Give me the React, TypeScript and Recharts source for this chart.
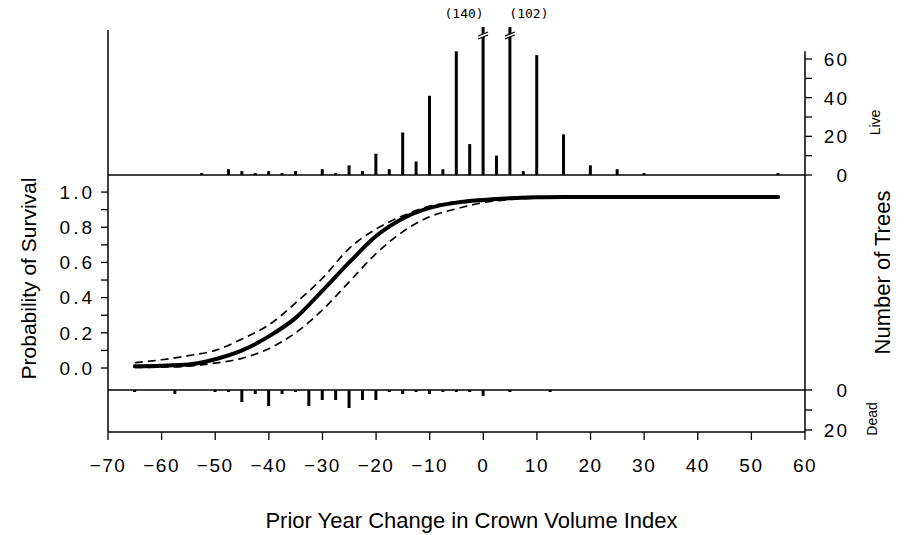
import {
  ComposedChart,
  BarChart,
  Bar,
  Line,
  XAxis,
  YAxis,
  ReferenceLine,
  Label,
} from "recharts";

// live trees per crown-volume-change bin (top histogram)
const liveBins = [
  -52.5, -47.5, -45, -42.5, -40, -37.5, -35, -30, -27.5, -25, -22.5, -20, -17.5, -15, -12.5,
  -10, -7.5, -5, -2.5, 0, 2.5, 5, 7.5, 10, 15, 20, 25, 30, 55,
];
const liveCounts = [
  1, 3, 2, 1, 2, 1, 2, 3, 1, 5, 2, 11, 3, 22, 7, 41, 3, 64, 16, 140, 10, 102, 2, 62, 21, 5, 3, 1, 1,
];

// dead trees per bin (bottom histogram, drawn downward)
const deadBins = [
  -65, -57.5, -50, -47.5, -45, -42.5, -40, -37.5, -35, -32.5, -30, -27.5, -25, -22.5, -20,
  -17.5, -15, -12.5, -10, -7.5, -5, -2.5, 0, 5, 12.5,
];
const deadCounts = [1, 2, 1, 1, 6, 2, 8, 2, 1, 8, 5, 5, 9, 5, 5, 1, 2, 1, 2, 1, 1, 1, 3, 1, 1];

// fitted survival curve and its confidence band
const curveX = [
  -65, -60, -55, -50, -45, -40, -35, -30, -25, -20, -15, -10, -5, 0, 5, 10, 15, 20, 25, 30, 35,
  40, 45, 50, 55,
];
const survival = [
  0.01, 0.013, 0.02, 0.05, 0.1, 0.18, 0.285, 0.44, 0.6, 0.75, 0.85, 0.91, 0.94, 0.955, 0.965,
  0.97, 0.972, 0.972, 0.972, 0.972, 0.972, 0.972, 0.972, 0.972, 0.972,
];
const upperBand = [
  0.03, 0.047, 0.07, 0.1, 0.165, 0.245, 0.37, 0.51, 0.68, 0.79, 0.865, 0.92, 0.945, 0.96, 0.968,
  0.972, 0.973, 0.973, 0.973, 0.973, 0.973, 0.973, 0.973, 0.973, 0.973,
];
const lowerBand = [
  0.003, 0.005, 0.01, 0.028, 0.055, 0.11, 0.2, 0.33, 0.49, 0.65, 0.775, 0.86, 0.905, 0.94, 0.958,
  0.966, 0.97, 0.971, 0.971, 0.971, 0.971, 0.971, 0.971, 0.971, 0.971,
];

const xTicks = [-70, -60, -50, -40, -30, -20, -10, 0, 10, 20, 30, 40, 50, 60];
const probTicks = [0, 0.1, 0.2, 0.3, 0.4, 0.5, 0.6, 0.7, 0.8, 0.9, 1.0];
const liveTicks = [0, 10, 20, 30, 40, 50, 60];
const liveTickLabels = [0, 20, 40, 60];
const deadTicks = [0, 10, 20];
const deadTickLabels = [0, 20];

const LIVE_CAP = 75;

const W = 911;
const FONT = "'Liberation Sans', Arial, sans-serif";
const INK = "#000";
const margin = { left: 48, right: 46 };

const liveData = (() => {
  let nBroken = 0;
  return liveBins.map((x, i) => {
    const full = liveCounts[i];
    const broken = full > LIVE_CAP;
    const side = broken ? (nBroken++ % 2 === 0 ? -1 : 1) : 0;
    return { x, live: Math.min(full, LIVE_CAP), full, broken, side };
  });
})();
const deadData = deadBins.map((x, i) => ({ x, dead: deadCounts[i] }));
const curveData = curveX.map((x, i) => ({
  x,
  p: survival[i],
  hi: upperBand[i],
  lo: lowerBand[i],
}));

const LiveBar = (props: any) => {
  const { x, y, width, height, payload } = props;
  if (!height || height <= 0) return null;
  if (!payload.broken) return <rect x={x} y={y} width={width} height={height} fill={INK} />;
  const cx = x + width / 2;
  const top = y - 3;
  return (
    <g>
      <rect x={x} y={top} width={width} height={height + 3} fill={INK} />
      <polygon
        points={`${cx - 5},${y + 6} ${cx + 5},${y + 2} ${cx + 5},${y + 5} ${cx - 5},${y + 9}`}
        fill="#fff"
      />
      <line x1={cx - 5} y1={y + 6} x2={cx + 5} y2={y + 2} stroke={INK} strokeWidth={1.3} />
      <line x1={cx - 5} y1={y + 9} x2={cx + 5} y2={y + 5} stroke={INK} strokeWidth={1.3} />
      <text
        x={cx + payload.side * 19}
        y={top - 9}
        textAnchor="middle"
        fontSize={13}
        fontFamily="'DejaVu Sans Mono', monospace"
        fill={INK}
      >
        ({payload.full})
      </text>
    </g>
  );
};

const RightTick = ({ x, y, payload, labels }: any) => {
  if (!labels.includes(payload.value)) return null;
  return (
    <text
      x={x + 37}
      y={y}
      dy={7}
      textAnchor="end"
      fontSize={19}
      fontFamily={FONT}
      letterSpacing={2}
      fill={INK}
    >
      {payload.value}
    </text>
  );
};

const SideTitle = ({ viewBox, text, dx, dy, size, family }: any) => {
  const cx = viewBox.x + dx;
  const cy = viewBox.y + viewBox.height / 2 + dy;
  return (
    <text
      x={cx}
      y={cy}
      transform={`rotate(-90 ${cx} ${cy})`}
      textAnchor="middle"
      dominantBaseline="central"
      fontSize={size}
      fontFamily={family || FONT}
      fill={INK}
    >
      {text}
    </text>
  );
};

const BottomTitle = ({ viewBox, text }: any) => (
  <text
    x={viewBox.x + viewBox.width / 2 + 15}
    y={viewBox.y + viewBox.height - 6}
    textAnchor="middle"
    fontSize={22}
    fontFamily={FONT}
    fill={INK}
  >
    {text}
  </text>
);

const fmtX = (v: number) => (v < 0 ? `\u2212${Math.abs(v)}` : `${v}`);
const fmtP = (v: number) => (Math.round(v * 10) % 2 === 0 ? v.toFixed(1) : "");

const axisLineStyle = { stroke: INK, strokeWidth: 1.5 };
const tickLineStyle = { stroke: INK, strokeWidth: 1.3 };

export default function App() {
  return (
    <div
      style={{
        position: "absolute",
        left: 0,
        top: 0,
        width: W,
        height: 535,
        background: "#fff",
        overflow: "hidden",
      }}
    >
      {/* live trees */}
      <div style={{ position: "absolute", left: 0, top: 0 }}>
        <BarChart
          width={W}
          height={190}
          data={liveData}
          margin={{ top: 30, bottom: 14, ...margin }}
        >
          <XAxis
            dataKey="x"
            type="number"
            domain={[-70, 60]}
            ticks={xTicks}
            height={1}
            tick={false}
            tickLine={false}
            axisLine={axisLineStyle}
          />
          <YAxis
            yAxisId="left"
            orientation="left"
            width={60}
            domain={[0, LIVE_CAP]}
            tick={false}
            tickLine={false}
            axisLine={axisLineStyle}
          />
          <YAxis
            yAxisId="right"
            orientation="right"
            width={60}
            domain={[0, LIVE_CAP]}
            ticks={liveTicks}
            interval={0}
            tickSize={7}
            tickMargin={0}
            tickLine={tickLineStyle}
            axisLine={false}
            tick={<RightTick labels={liveTickLabels} />}
          >
            <Label
              content={(p: any) => (
                <SideTitle {...p} text="Live" dx={70} dy={20} size={14} />
              )}
            />
          </YAxis>
          <ReferenceLine
            yAxisId="right"
            segment={[
              { x: 60, y: 0 },
              { x: 60, y: 64 },
            ]}
            stroke={INK}
            strokeWidth={1.5}
            ifOverflow="visible"
          />
          <Bar
            yAxisId="right"
            dataKey="live"
            barSize={3}
            shape={<LiveBar />}
            isAnimationActive={false}
          />
        </BarChart>
      </div>

      {/* survival curve */}
      <div style={{ position: "absolute", left: 0, top: 150 }}>
        <ComposedChart width={W} height={265} data={curveData} margin={{ top: 25, bottom: 25, ...margin }}>
          <XAxis dataKey="x" type="number" domain={[-70, 60]} ticks={xTicks} hide />
          <YAxis
            yAxisId="left"
            orientation="left"
            width={60}
            domain={[-0.125, 1.097]}
            ticks={probTicks}
            interval={0}
            tickFormatter={fmtP}
            tickSize={7}
            tickMargin={6}
            tickLine={tickLineStyle}
            axisLine={axisLineStyle}
            tick={{ fontSize: 19, fontFamily: FONT, fill: INK, letterSpacing: 3 }}
          >
            <Label
              content={(p: any) => (
                <SideTitle {...p} text="Probability of Survival" dx={-20} dy={-4} size={21} />
              )}
            />
          </YAxis>
          <YAxis
            yAxisId="right"
            orientation="right"
            width={60}
            domain={[-0.125, 1.097]}
            tick={false}
            tickLine={false}
            axisLine={axisLineStyle}
          >
            <Label
              content={(p: any) => (
                <SideTitle {...p} text="Number of Trees" dx={77} dy={-10} size={22} />
              )}
            />
          </YAxis>
          <Line
            yAxisId="left"
            dataKey="hi"
            type="monotone"
            stroke={INK}
            strokeWidth={1.7}
            strokeDasharray="8 5"
            dot={false}
            isAnimationActive={false}
          />
          <Line
            yAxisId="left"
            dataKey="lo"
            type="monotone"
            stroke={INK}
            strokeWidth={1.7}
            strokeDasharray="8 5"
            dot={false}
            isAnimationActive={false}
          />
          <Line
            yAxisId="left"
            dataKey="p"
            type="monotone"
            stroke={INK}
            strokeWidth={4}
            strokeLinecap="round"
            dot={false}
            isAnimationActive={false}
          />
        </ComposedChart>
      </div>

      {/* dead trees + shared x axis */}
      <div style={{ position: "absolute", left: 0, top: 370 }}>
        <BarChart width={W} height={164} data={deadData} margin={{ top: 19, bottom: 0, ...margin }}>
          <XAxis
            xAxisId="top"
            dataKey="x"
            type="number"
            orientation="top"
            domain={[-70, 60]}
            ticks={xTicks}
            height={1}
            tick={false}
            tickLine={false}
            axisLine={axisLineStyle}
          />
          <XAxis
            xAxisId="bottom"
            dataKey="x"
            type="number"
            orientation="bottom"
            domain={[-70, 60]}
            ticks={xTicks}
            interval={0}
            height={102}
            tickSize={8}
            tickMargin={19}
            tickFormatter={fmtX}
            tickLine={tickLineStyle}
            axisLine={axisLineStyle}
            tick={{ fontSize: 19, fontFamily: FONT, fill: INK, letterSpacing: 1.5 }}
          >
            <Label
              content={(p: any) => (
                <BottomTitle {...p} text="Prior Year Change in Crown Volume Index" />
              )}
            />
          </XAxis>
          <YAxis
            yAxisId="left"
            orientation="left"
            width={60}
            domain={[0, 21]}
            reversed
            tick={false}
            tickLine={false}
            axisLine={axisLineStyle}
          />
          <YAxis
            yAxisId="right"
            orientation="right"
            width={60}
            domain={[0, 21]}
            reversed
            ticks={deadTicks}
            interval={0}
            tickSize={7}
            tickMargin={0}
            tickLine={tickLineStyle}
            axisLine={axisLineStyle}
            tick={<RightTick labels={deadTickLabels} />}
          >
            <Label
              content={(p: any) => (
                <SideTitle {...p} text="Dead" dx={67} dy={8} size={14} />
              )}
            />
          </YAxis>
          <Bar
            xAxisId="top"
            yAxisId="right"
            dataKey="dead"
            barSize={3}
            fill={INK}
            isAnimationActive={false}
          />
        </BarChart>
      </div>
    </div>
  );
}
